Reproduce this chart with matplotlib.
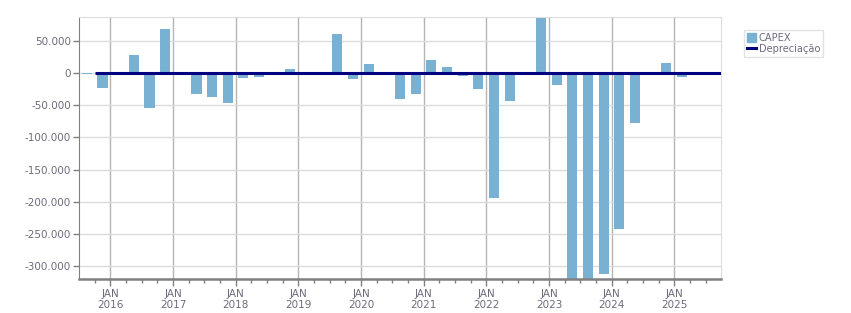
import matplotlib

matplotlib.use("Agg")
import matplotlib.pyplot as plt
from matplotlib.lines import Line2D
from matplotlib.patches import Patch
from matplotlib.ticker import FixedLocator, FuncFormatter

# quarterly CAPEX (quarter label, value)
quarters = [
    "2015Q3", "2015Q4", "2016Q1", "2016Q2", "2016Q3", "2016Q4",
    "2017Q1", "2017Q2", "2017Q3", "2017Q4", "2018Q1", "2018Q2",
    "2018Q3", "2018Q4", "2019Q1", "2019Q2", "2019Q3", "2019Q4",
    "2020Q1", "2020Q2", "2020Q3", "2020Q4", "2021Q1", "2021Q2",
    "2021Q3", "2021Q4", "2022Q1", "2022Q2", "2022Q3", "2022Q4",
    "2023Q1", "2023Q2", "2023Q3", "2023Q4", "2024Q1", "2024Q2",
    "2024Q3", "2024Q4", "2025Q1",
]
capex = [
    -800, -22700, 0, 28700, -53400, 69200,
    0, -32100, -36800, -45600, -6700, -5100,
    0, 6900, 0, 0, 61400, -8700,
    14600, 0, -39900, -32100, 20900, 10000,
    -4000, -24300, -194000, -42500, 0, 87000,
    -18000, -340000, -335000, -312500, -242400, -77300,
    0, 16200, -5600,
]
# depreciation line, by quarter start
dep_quarters = [
    "2015Q4", "2016Q1", "2016Q2", "2016Q3", "2016Q4", "2017Q1", "2017Q2",
    "2017Q3", "2017Q4", "2018Q1", "2018Q2", "2018Q3", "2018Q4", "2019Q1",
    "2019Q2", "2019Q3", "2019Q4", "2020Q1", "2020Q2", "2020Q3", "2020Q4",
    "2021Q1", "2021Q2", "2021Q3", "2021Q4", "2022Q1", "2022Q2", "2022Q3",
    "2022Q4", "2023Q1", "2023Q2", "2023Q3", "2023Q4", "2024Q1", "2024Q2",
    "2024Q3", "2024Q4", "2025Q1", "2025Q2", "2025Q3", "2025Q4",
]
depreciacao = [
    0, 0, 0, 0, 0, 0, 0, 0, 0, 0, 0, 0, 0, 0, 0, 0, 0, 0, 0, 0, 0,
    0, 0, 0, 0, 0, 0, 0, 0, 0, 0, 0, 0, 0, 0, 0, 0, 0, 0, 0, 0,
]
years = list(range(2016, 2026))

BAR = "#79b1d3"
LINE = "#000080"
TXT = "#6e6a7c"


def qstart(q):
    return int(q[:4]) + (int(q[-1]) - 1) / 4


def thousands(v, _):
    return f"{int(v):,}".replace(",", ".")


fig = plt.figure(figsize=(8.51, 3.13), dpi=100)
ax = fig.add_axes([0.0932, 0.1077, 0.754, 0.839])

ax.bar([qstart(q) + 0.125 for q in quarters], capex, width=0.16,
       color=BAR, zorder=2)
ax.plot([qstart(q) for q in dep_quarters], depreciacao, color=LINE,
        lw=2.2, zorder=3, solid_capstyle="butt")

ax.set_xlim(2015.505, 2025.745)
ax.set_ylim(-321000, 88300)

ax.yaxis.set_major_locator(FixedLocator(range(-300000, 50001, 50000)))
ax.yaxis.set_major_formatter(FuncFormatter(thousands))
ax.set_xticks(years)
ax.set_xticklabels([f"JAN\n{y}" for y in years])
ax.xaxis.set_minor_locator(FixedLocator([y + q / 4 for y in range(2015, 2026)
                                         for q in range(4)]))

ax.grid(axis="y", color="#dcdcdc", lw=1, zorder=0)
ax.grid(axis="x", which="major", color="#b4b4b4", lw=1, zorder=0)

for s in ("top", "right"):
    ax.spines[s].set_color("#dcdcdc")
ax.spines["left"].set_color("#808080")
ax.spines["bottom"].set_color("#808080")
ax.spines["bottom"].set_linewidth(1.8)

ax.tick_params(axis="y", length=4, width=1, color="#808080", labelsize=7.5,
               labelcolor=TXT, pad=2)
ax.tick_params(axis="x", which="major", length=5, width=1, color="#808080",
               labelsize=7.5, labelcolor=TXT, pad=2)
ax.tick_params(axis="x", which="minor", length=3, width=1, color="#808080")
for lab in ax.get_xticklabels():
    lab.set_linespacing(1.1)

handles = [Patch(color=BAR), Line2D([], [], color=LINE, lw=2.2)]
leg = fig.legend(handles, ["CAPEX", "Depreciação"], loc="upper left",
                 bbox_to_anchor=(0.874, 0.905), fontsize=7.1, frameon=True,
                 fancybox=False, handlelength=0.9, handleheight=1.0,
                 handletextpad=0.3, borderpad=0.3, labelspacing=0.15,
                 borderaxespad=0)
leg.get_frame().set_edgecolor("#dcdcdc")
leg.get_frame().set_linewidth(1)
for t in leg.get_texts():
    t.set_color(TXT)

fig.savefig("out.png", dpi=100)
plt.close(fig)
